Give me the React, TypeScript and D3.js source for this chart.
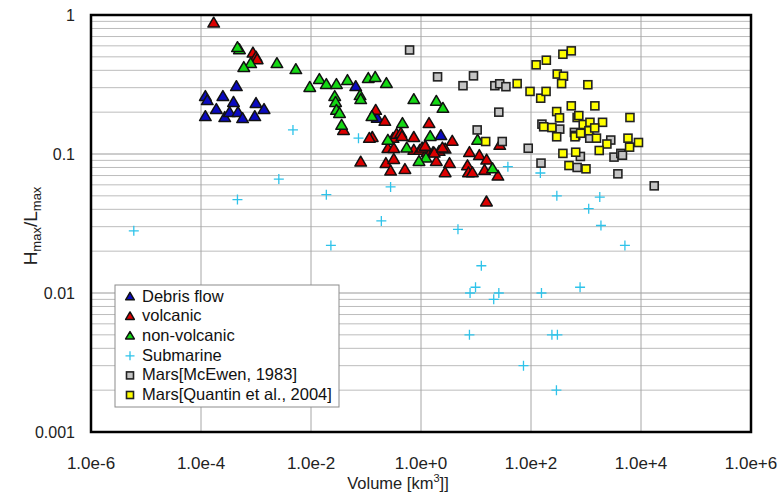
import React from "react";
import * as d3 from "d3";

type P = [number, number];

const debrisFlow: P[] = [
  [1.2e-4, 0.258], [1.3e-4, 0.241], [2.5e-4, 0.258], [4.4e-4, 0.304], [3.9e-4, 0.234],
  [1.9e-4, 0.208], [1.2e-4, 0.185], [2.7e-4, 0.182], [3.3e-4, 0.198], [4.7e-4, 0.198],
  [5.7e-4, 0.179], [1.0e-3, 0.23], [9.5e-4, 0.185], [1.4e-3, 0.208], [0.065, 0.304],
  [2.3, 0.135], [0.16, 0.18],
];

const volcanic: P[] = [
  [1.7e-4, 0.87], [8.8e-4, 0.53], [1.0e-3, 0.495], [1.05e-3, 0.475], [0.039, 0.147],
  [0.15, 0.205], [0.22, 0.171], [0.13, 0.131], [0.115, 0.129], [0.31, 0.129],
  [0.36, 0.138], [0.43, 0.14], [0.45, 0.133], [0.74, 0.131], [1.4, 0.165],
  [3.7, 0.123], [0.25, 0.109], [0.32, 0.109], [0.74, 0.106], [0.95, 0.106],
  [1.23, 0.111], [1.29, 0.102], [1.66, 0.102], [2.14, 0.104], [2.75, 0.108],
  [1.9, 0.088], [0.08, 0.087], [0.23, 0.085], [0.32, 0.091], [0.28, 0.075],
  [0.51, 0.077], [3.3, 0.085], [2.75, 0.073], [7.6, 0.102], [11.5, 0.097],
  [15.6, 0.09], [7.0, 0.082], [7.3, 0.073], [8.6, 0.073], [14.3, 0.076],
  [25, 0.069], [15.5, 0.045], [27, 0.115], [1.05, 0.11], [1.19, 0.113],
  [1.74, 0.101], [2.45, 0.11],
];

const nonVolcanic: P[] = [
  [5.0e-4, 0.56], [4.6e-4, 0.58], [8.0e-4, 0.445], [6.0e-4, 0.417], [2.4e-3, 0.445],
  [5.3e-3, 0.403], [9.5e-3, 0.3], [0.0142, 0.342], [0.019, 0.315], [0.029, 0.315],
  [0.046, 0.336], [0.11, 0.348], [0.147, 0.354], [0.235, 0.32], [0.078, 0.262],
  [0.08, 0.245], [0.027, 0.258], [0.028, 0.234], [0.029, 0.205], [0.033, 0.195],
  [0.036, 0.16], [0.128, 0.185], [0.46, 0.165], [0.25, 0.125], [0.74, 0.245],
  [1.9, 0.238], [2.5, 0.212], [1.47, 0.133], [0.55, 0.11], [1.23, 0.093],
  [0.92, 0.088], [10.7, 0.125], [20, 0.078],
];

const submarine: P[] = [
  [6.0e-6, 0.028], [4.6e-4, 0.047], [2.6e-3, 0.066], [0.019, 0.051], [0.023, 0.022],
  [4.7e-3, 0.149], [0.073, 0.13], [38, 0.081], [148, 0.073], [295, 0.05],
  [0.28, 0.058], [0.19, 0.033], [4.7, 0.0287], [12.5, 0.0157], [9.8, 0.011],
  [7.8, 0.01], [26, 0.01], [21, 0.009], [155, 0.01], [780, 0.011],
  [7.6, 0.005], [240, 0.005], [302, 0.005], [73, 0.003], [290, 0.002],
  [1780, 0.049], [1120, 0.0404], [1870, 0.0306], [5100, 0.022],
];

const marsMcEwen: P[] = [
  [0.62, 0.56], [2.0, 0.359], [5.8, 0.31], [9.0, 0.365], [22, 0.31],
  [27, 0.32], [35, 0.305], [26, 0.2], [10.5, 0.149], [30, 0.123],
  [89, 0.11], [152, 0.086], [158, 0.164], [333, 0.151], [615, 0.143],
  [1170, 0.13], [790, 0.096], [690, 0.08], [2820, 0.126], [3230, 0.095],
  [4300, 0.101], [3800, 0.072], [17400, 0.059], [650, 0.136], [4600, 0.098],
];

const marsQuantin: P[] = [
  [56, 0.321], [96, 0.282], [150, 0.252], [188, 0.282], [124, 0.438],
  [190, 0.473], [380, 0.522], [540, 0.552], [300, 0.376], [390, 0.363],
  [360, 0.321], [293, 0.202], [330, 0.182], [170, 0.157], [240, 0.155],
  [293, 0.133], [540, 0.222], [630, 0.133], [690, 0.183], [15, 0.123],
  [380, 0.101], [650, 0.103], [1080, 0.315], [1450, 0.222], [740, 0.189],
  [6300, 0.183], [890, 0.163], [1180, 0.169], [2000, 0.169], [1130, 0.147],
  [1440, 0.154], [1550, 0.13], [2400, 0.118], [1740, 0.106], [5800, 0.13],
  [6200, 0.112], [9000, 0.121], [490, 0.0826], [1000, 0.0782], [800, 0.141],
];

const xTicks = [1e-6, 1e-4, 1e-2, 1, 1e2, 1e4, 1e6];
const xTickLabels = ["1.0e-6", "1.0e-4", "1.0e-2", "1.0e+0", "1.0e+2", "1.0e+4", "1.0e+6"];
const yTicks = [1, 0.1, 0.01, 0.001];
const yTickLabels = ["1", "0.1", "0.01", "0.001"];
const legendLabels = [
  "Debris flow",
  "volcanic",
  "non-volcanic",
  "Submarine",
  "Mars[McEwen, 1983]",
  "Mars[Quantin et al., 2004]",
];

const FONT = "Liberation Sans, Arial, sans-serif";

const x = d3.scaleLog().domain([1e-6, 1e6]).range([91, 751]);
const y = d3.scaleLog().domain([0.001, 1]).range([432, 15]);

function Tri({ cx, cy, fill, s = 1 }: { cx: number; cy: number; fill: string; s?: number }) {
  const d = `M${cx},${cy - 6.2 * s}L${cx + 5.8 * s},${cy + 3.7 * s}L${cx - 5.8 * s},${cy + 3.7 * s}Z`;
  return <path d={d} fill={fill} stroke="#111" strokeWidth={1.5} strokeLinejoin="round" />;
}
function Sq({ cx, cy, fill, s = 8 }: { cx: number; cy: number; fill: string; s?: number }) {
  return (
    <rect x={cx - s / 2} y={cy - s / 2} width={s} height={s} fill={fill} stroke="#222" strokeWidth={1.6} />
  );
}
function Plus({ cx, cy, r = 5 }: { cx: number; cy: number; r?: number }) {
  return (
    <path d={`M${cx - r},${cy}H${cx + r}M${cx},${cy - r}V${cy + r}`} stroke="#2ec3ea" strokeWidth={1.3} fill="none" />
  );
}

const BLUE = "#0a0ac0";
const RED = "#dd0000";
const GREEN = "#14d814";
const GREY = "#c4c4c4";
const YELLOW = "#ffff00";

export default function App() {
  const hLines: number[] = [];
  for (let k = -3; k < 0; k++) {
    for (let m = 1; m <= 9; m++) {
      const v = m * Math.pow(10, k);
      if (v > 0.0011 && v < 0.99) hLines.push(v);
    }
  }
  const vLines = [1e-4, 1e-2, 1, 1e2, 1e4];
  const [x0, x1] = x.range();
  const [y0, y1] = y.range();

  return (
    <svg width={780} height={492} style={{ position: "absolute", left: 0, top: 0, background: "#fff" }} fontFamily={FONT}>
      <rect x={0} y={0} width={780} height={492} fill="#fff" />
      {hLines.map((v, i) => (
        <line key={"h" + i} x1={x0} x2={x1} y1={y(v)} y2={y(v)} stroke={Math.abs(Math.log10(v) - Math.round(Math.log10(v))) < 1e-6 ? "#9a9a9a" : "#bcbcbc"} strokeWidth={1} />
      ))}
      {vLines.map((v, i) => (
        <line key={"v" + i} x1={x(v)} x2={x(v)} y1={y1} y2={y0} stroke="#a6a6a6" strokeWidth={1} />
      ))}

      {debrisFlow.map((p, i) => <Tri key={"b" + i} cx={x(p[0])} cy={y(p[1])} fill={BLUE} />)}
      {volcanic.map((p, i) => <Tri key={"r" + i} cx={x(p[0])} cy={y(p[1])} fill={RED} />)}
      {nonVolcanic.map((p, i) => <Tri key={"g" + i} cx={x(p[0])} cy={y(p[1])} fill={GREEN} />)}
      {submarine.map((p, i) => <Plus key={"s" + i} cx={x(p[0])} cy={y(p[1])} />)}
      {marsMcEwen.map((p, i) => <Sq key={"m" + i} cx={x(p[0])} cy={y(p[1])} fill={GREY} />)}
      {marsQuantin.map((p, i) => <Sq key={"q" + i} cx={x(p[0])} cy={y(p[1])} fill={YELLOW} />)}

      <rect x={x0} y={y1} width={x1 - x0} height={y0 - y1} fill="none" stroke="#000" strokeWidth={2.5} />

      {yTicks.map((v, i) => (
        <text key={"yt" + i} x={75} y={y(v)} dy="0.35em" textAnchor="end" fontSize={16} fill="#222">
          {yTickLabels[i]}
        </text>
      ))}
      {xTicks.map((v, i) => (
        <text key={"xt" + i} x={x(v)} y={469} textAnchor="middle" fontSize={17} fill="#222">
          {xTickLabels[i]}
        </text>
      ))}

      <text x={398} y={489} textAnchor="middle" fontSize={16.5} fill="#222">
        Volume [km<tspan fontSize={11} dy={-7}>3</tspan><tspan dy={7}>]]</tspan>
      </text>

      <text transform="translate(37,226) rotate(-90)" textAnchor="middle" fontSize={19} fill="#222">
        H<tspan fontSize={13} dy={4}>max</tspan><tspan dy={-4}>/L</tspan><tspan fontSize={13} dy={4}>max</tspan>
      </text>

      <g>
        <rect x={115} y={285} width={224} height={122} fill="#fff" stroke="#8c8c8c" strokeWidth={1} />
        {legendLabels.map((t, i) => {
          const cy = 296 + i * 19.6;
          const cx = 130;
          let marker: React.ReactNode = null;
          if (i === 0) marker = <Tri cx={cx} cy={cy + 1} fill={BLUE} s={0.75} />;
          if (i === 1) marker = <Tri cx={cx} cy={cy + 1} fill={RED} s={0.75} />;
          if (i === 2) marker = <Tri cx={cx} cy={cy + 1} fill={GREEN} s={0.75} />;
          if (i === 3) marker = <Plus cx={cx} cy={cy + 1} r={4.5} />;
          if (i === 4) marker = <Sq cx={cx} cy={cy + 1} fill={GREY} s={7} />;
          if (i === 5) marker = <Sq cx={cx} cy={cy + 1} fill={YELLOW} s={7} />;
          return (
            <g key={"lg" + i}>
              {marker}
              <text x={142} y={cy} dy="0.35em" fontSize={16.5} fill="#111">{t}</text>
            </g>
          );
        })}
      </g>
    </svg>
  );
}
